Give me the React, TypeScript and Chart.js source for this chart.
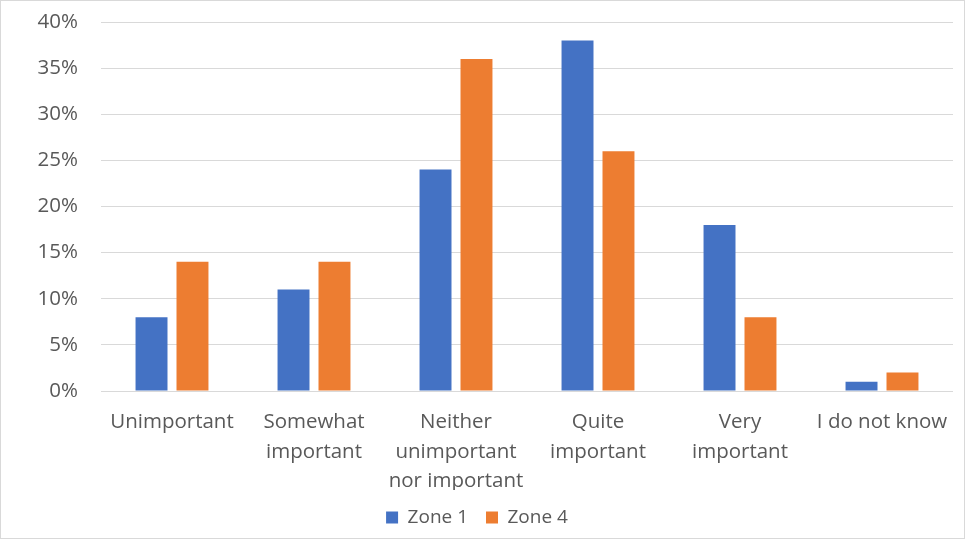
import React, { useEffect, useRef } from "react";
import { Chart, registerables } from "chart.js";

Chart.register(...registerables);

const categories: (string | string[])[] = [
  "Unimportant",
  ["Somewhat", "important"],
  ["Neither", "unimportant", "nor important"],
  ["Quite", "important"],
  ["Very", "important"],
  "I do not know",
];
const zone1 = [8, 11, 24, 38, 18, 1];
const zone4 = [14, 14, 36, 26, 8, 2];
const yTicks = [0, 5, 10, 15, 20, 25, 30, 35, 40];

export default function App() {
  const ref = useRef<HTMLCanvasElement>(null);
  useEffect(() => {
    document.body.style.margin = "0";
    const font = { family: "'Open Sans', Lato, sans-serif", size: 20.5 };
    const legendFont = { family: "'Open Sans', Lato, sans-serif", size: 19 };
    const chart = new Chart(ref.current!, {
      type: "bar",
      data: {
        labels: categories,
        datasets: [
          { label: "Zone 1", data: zone1, backgroundColor: "#4472C4", categoryPercentage: 0.577, barPercentage: 0.78 },
          { label: "Zone 4", data: zone4, backgroundColor: "#ED7D31", categoryPercentage: 0.577, barPercentage: 0.78 },
        ],
      },
      options: {
        animation: false,
        responsive: true,
        maintainAspectRatio: false,
        layout: { padding: { top: 21, right: 11, left: 0, bottom: 1 } },
        plugins: {
          tooltip: { enabled: false },
          legend: {
            position: "bottom",
            labels: { boxWidth: 12, boxHeight: 12, color: "#595959", font: legendFont, padding: 18 },
          },
        },
        scales: {
          x: {
            grid: { display: false },
            border: { display: false },
            afterFit: (s: any) => { s.height = 99; s.paddingTop = 0; s.paddingBottom = 0; },
            ticks: { color: "#595959", font: { ...font, lineHeight: 1.42 }, maxRotation: 0, autoSkip: false, padding: 9 },
          },
          y: {
            min: 0,
            max: 40,
            afterBuildTicks: (s: any) => { s.ticks = yTicks.map((v) => ({ value: v })); },
            afterFit: (s: any) => { s.width = 100; s.paddingTop = 0; s.paddingBottom = 0; },
            grid: { color: "#d9d9d9", drawTicks: false, lineWidth: 1 },
            border: { display: false },
            ticks: { color: "#595959", font, padding: 23, callback: (v: any) => v + "%" },
          },
        },
      },
    });
    return () => chart.destroy();
  }, []);
  return (
    <div style={{ width: 965, height: 539, boxSizing: "border-box", border: "1px solid #d9d9d9", position: "relative" }}>
      <canvas ref={ref} />
    </div>
  );
}
